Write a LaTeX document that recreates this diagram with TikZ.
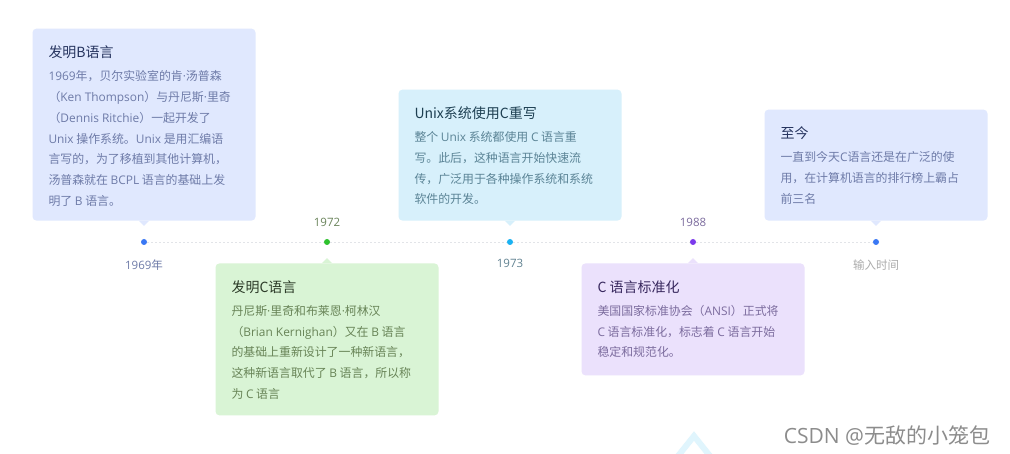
\documentclass[tikz,border=0pt]{standalone}
\usepackage{fontspec}
\setmainfont{Noto Sans CJK SC}
\newfontfamily\enfont{Open Sans}[Scale=1.0]
\newcommand{\en}[1]{{\enfont #1}}
\usepackage{xcolor}
\definecolor{cardblue}{HTML}{E0E8FE}
\definecolor{cardgreen}{HTML}{D9F4D5}
\definecolor{cardcyan}{HTML}{D7F0FB}
\definecolor{cardpurple}{HTML}{EBE1FC}
\definecolor{ttlblue}{HTML}{25335E}
\definecolor{ttlgreen}{HTML}{2C3B28}
\definecolor{ttlcyan}{HTML}{1D3F51}
\definecolor{ttlpurple}{HTML}{38285E}
\definecolor{txtblue}{HTML}{6E7BA8}
\definecolor{txtgreen}{HTML}{688457}
\definecolor{txtcyan}{HTML}{5B8496}
\definecolor{txtpurple}{HTML}{7C6C9E}
\definecolor{dotblue}{HTML}{3A78F4}
\definecolor{dotgreen}{HTML}{2EC22E}
\definecolor{dotcyan}{HTML}{1AB2F2}
\definecolor{dotpurple}{HTML}{7B3AEC}
\definecolor{axisgray}{HTML}{E2E4E8}
\usetikzlibrary{positioning}
\tikzset{
	card/.style  = {rectangle,rounded corners=4pt,minimum width=223pt,
		inner sep=0pt},
	dot/.style   = {circle,inner sep=0pt,minimum size=6pt},
	ttl/.style   = {anchor=north west,inner sep=0pt,
		font=\fontsize{14}{16}\selectfont},
	txt/.style   = {anchor=north west,inner sep=0pt,align=left,
		font=\fontsize{11.9}{20.8}\selectfont},
	yr/.style    = {inner sep=0pt,font=\fontsize{11.5}{14}\selectfont},
	axis/.style  = {axisgray,line width=0.8pt,dash pattern=on 2pt off 2pt},
	wm/.style    = {inner sep=0pt,text=gray!90,font=\fontsize{21}{24}\selectfont},
}

\begin{document}
\begin{tikzpicture}[x=1pt,y=1pt]
	\fill[white] (0,0) rectangle (1010,-454);
	\useasboundingbox (0,0) rectangle (1010,-454);
	
	%% points on the time axis
	\node (d1) [dot,fill=dotblue]   at (144,-242) {};
	\node (d2) [dot,fill=dotgreen]  at (327,-242) {};
	\node (d3) [dot,fill=dotcyan]   at (510,-242) {};
	\node (d4) [dot,fill=dotpurple] at (693,-242) {};
	\node (d5) [dot,fill=dotblue]   at (876,-242) {};
	\foreach \a/\b in {d1/d2,d2/d3,d3/d4,d4/d5}
		\draw[axis] (\a) -- (\b);
	
	%% year labels
	\node (y1) [yr,text=txtblue,below=14pt of d1]       {\en{1969}年};
	\node (y2) [yr,text=txtgreen!90!gray,above=12pt of d2] {\en{1972}};
	\node (y3) [yr,text=txtcyan!80!gray,below=14pt of d3]  {\en{1973}};
	\node (y4) [yr,text=txtpurple,above=12pt of d4]     {\en{1988}};
	\node (y5) [yr,text=gray!65,below=14pt of d5]        {输入时间};
	
	%% cards
	\node (c1) [card,fill=cardblue,minimum height=192pt,above=18pt of d1] {};
	\node (c2) [card,fill=cardgreen,minimum height=152pt,below=18pt of d2] {};
	\node (c3) [card,fill=cardcyan,minimum height=131pt,above=18pt of d3] {};
	\node (c4) [card,fill=cardpurple,minimum height=112pt,below=18pt of d4] {};
	\node (c5) [card,fill=cardblue,minimum height=111pt,above=18pt of d5] {};
	
	\foreach \c/\f in {c1/cardblue,c3/cardcyan,c5/cardblue}
		\fill[\f] ([xshift=-5pt]\c.south) -- ([xshift=5pt]\c.south)
		-- ([yshift=-5pt]\c.south) -- cycle;
	\foreach \c/\f in {c2/cardgreen,c4/cardpurple}
		\fill[\f] ([xshift=-5pt]\c.north) -- ([xshift=5pt]\c.north)
		-- ([yshift=5pt]\c.north) -- cycle;
	
	%% card texts
	\node (h1) [ttl,text=ttlblue] at ([shift={(16pt,-17.5pt)}]c1.north west) {发明B语言};
	\node (b1) [txt,text=txtblue,below=11pt of h1.south west,anchor=north west]
	{\en{1969}年，贝尔实验室的肯\en{·}汤普森\\
		（\en{Ken Thompson}）与丹尼斯\en{·}里奇\\
		（\en{Dennis Ritchie}）一起开发了\\
		\en{Unix} 操作系统。\en{Unix} 是用汇编语\\
		言写的，为了移植到其他计算机，\\
		汤普森就在 \en{BCPL} 语言的基础上发\\
		明了 \en{B} 语言。};
	
	\node (h2) [ttl,text=ttlgreen] at ([shift={(16pt,-17.5pt)}]c2.north west) {发明C语言};
	\node (b2) [txt,text=txtgreen,below=11pt of h2.south west,anchor=north west]
	{丹尼斯\en{·}里奇和布莱恩\en{·}柯林汉\\
		（\en{Brian Kernighan}）又在 \en{B} 语言\\
		的基础上重新设计了一种新语言，\\
		这种新语言取代了 \en{B} 语言，所以称\\
		为 \en{C} 语言};
	
	\node (h3) [ttl,text=ttlcyan] at ([shift={(16pt,-17.5pt)}]c3.north west) {Unix系统使用C重写};
	\node (b3) [txt,text=txtcyan,below=11pt of h3.south west,anchor=north west]
	{整个 \en{Unix} 系统都使用 \en{C} 语言重\\
		写。此后，这种语言开始快速流\\
		传，广泛用于各种操作系统和系统\\
		软件的开发。};
	
	\node (h4) [ttl,text=ttlpurple] at ([shift={(16pt,-17.5pt)}]c4.north west) {C 语言标准化};
	\node (b4) [txt,text=txtpurple,below=11pt of h4.south west,anchor=north west]
	{美国国家标准协会（\en{ANSI}）正式将\\
		\en{C} 语言标准化，标志着 \en{C} 语言开始\\
		稳定和规范化。};
	
	\node (h5) [ttl,text=ttlblue] at ([shift={(16pt,-17.5pt)}]c5.north west) {至今};
	\node (b5) [txt,text=txtblue,below=11pt of h5.south west,anchor=north west]
	{一直到今天\en{C}语言还是在广泛的使\\
		用，在计算机语言的排行榜上霸占\\
		前三名};
	
	%% scroll mark and watermark
	\draw[cyan!12,line width=6pt] (678,-456) -- (694,-436) -- (710,-456);
	\node (wm) [wm] at (887,-436) {\en{CSDN @}无敌的小笼包};
\end{tikzpicture}
\end{document}
